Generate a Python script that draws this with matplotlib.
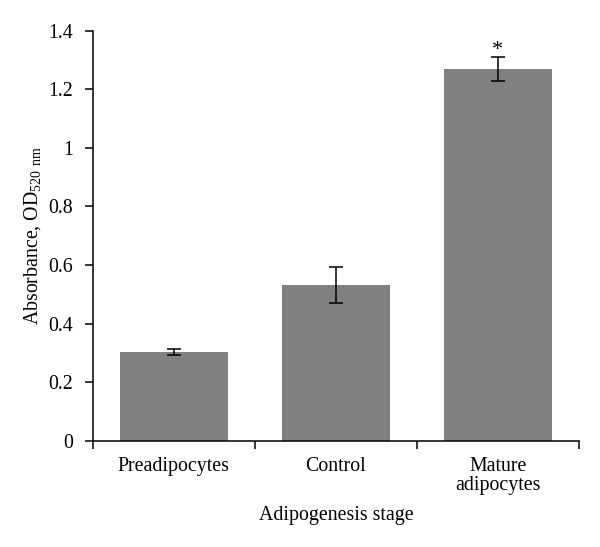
import numpy as np
import matplotlib
matplotlib.use("Agg")
import matplotlib.pyplot as plt
from matplotlib.ticker import FormatStrFormatter, FixedLocator

plt.rcParams['font.family'] = ['Liberation Serif', 'DejaVu Serif']
plt.rcParams['mathtext.default'] = 'regular'

stages = ['Preadipocytes', 'Control', 'Mature\nadipocytes']
absorbance = [0.304, 0.532, 1.270]
errors = [0.010, 0.061, 0.041]
significant = [False, False, True]

FS = 14.3

fig = plt.figure(figsize=(6, 5.47), dpi=100)
ax = fig.add_axes([0.1545, 0.1943, 0.8105, 0.7496])

x = np.arange(len(stages))
ax.bar(x, absorbance, width=0.667, color='#808080', zorder=2)
ax.errorbar(x, absorbance, yerr=errors, fmt='none', ecolor='black',
            elinewidth=1.1, capsize=5, capthick=1.1, zorder=3)
for xi, v, e, s in zip(x, absorbance, errors, significant):
    if s:
        ax.text(xi, v + e - 0.01, '*', ha='center', va='bottom', fontsize=16)

ax.set_xlim(-0.5, len(stages) - 0.5)
ax.set_ylim(0, 1.4)
ax.set_yticks(np.arange(0, 1.41, 0.2))
ax.yaxis.set_major_formatter(FormatStrFormatter('%g'))

ax.set_xticks(x)
ax.set_xticklabels(stages, linespacing=1.0)
ax.xaxis.set_minor_locator(FixedLocator(np.arange(-0.5, len(stages), 1.0)))
ax.tick_params(axis='x', which='major', length=0, pad=12, labelsize=FS)
ax.tick_params(axis='x', which='minor', length=6, width=1.1, direction='out')
ax.tick_params(axis='y', length=6, width=1.1, direction='out', pad=8, labelsize=FS)

for side in ['top', 'right']:
    ax.spines[side].set_visible(False)
for side in ['left', 'bottom']:
    ax.spines[side].set_linewidth(1.1)

ax.set_ylabel('Absorbance, OD$_{520\\ nm}$', fontsize=FS, labelpad=4)
ax.set_xlabel('Adipogenesis stage', fontsize=FS, labelpad=8)

fig.savefig('out.png', dpi=100)
